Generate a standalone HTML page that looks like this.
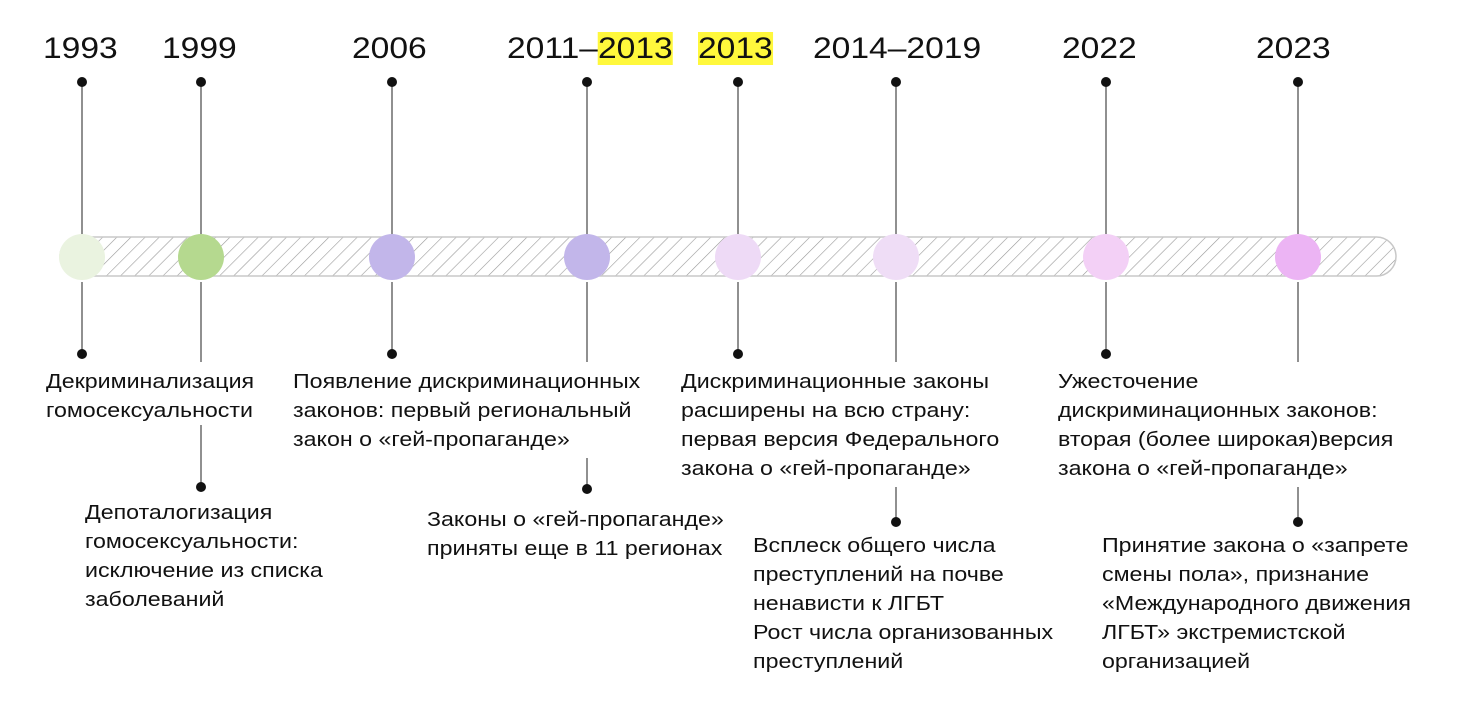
<!DOCTYPE html>
<html><head><meta charset="utf-8"><style>
body{margin:0;width:1458px;height:706px;background:#fff;position:relative;overflow:hidden;font-family:"Liberation Sans",sans-serif;color:#111}
.y{position:absolute;top:31px;font-size:30px;line-height:36px;white-space:nowrap;transform:scaleX(1.12);transform-origin:0 0}
.hl{background:#fff83c}
.t{position:absolute;font-size:20px;line-height:29px;white-space:nowrap;transform:scaleX(1.16);transform-origin:0 0}
svg{position:absolute;left:0;top:0}
</style></head><body>
<svg width="1458" height="706">
<defs><pattern id="h" width="10" height="10" patternUnits="userSpaceOnUse" patternTransform="rotate(45)"><line x1="0" y1="0" x2="0" y2="10" stroke="#999" stroke-width="1.2"/></pattern></defs>
<rect x="60" y="237" width="1336" height="39" rx="19.5" fill="url(#h)" stroke="#c8c8c8" stroke-width="1.5"/>
<g stroke="#555" stroke-width="1.3">
<line x1="82" y1="82" x2="82" y2="236"/><line x1="201" y1="82" x2="201" y2="236"/><line x1="392" y1="82" x2="392" y2="236"/><line x1="587" y1="82" x2="587" y2="236"/><line x1="738" y1="82" x2="738" y2="236"/><line x1="896" y1="82" x2="896" y2="236"/><line x1="1106" y1="82" x2="1106" y2="236"/><line x1="1298" y1="82" x2="1298" y2="236"/>
<line x1="82" y1="282" x2="82" y2="354"/><line x1="201" y1="282" x2="201" y2="362"/><line x1="392" y1="282" x2="392" y2="354"/><line x1="587" y1="282" x2="587" y2="362"/><line x1="738" y1="282" x2="738" y2="354"/><line x1="896" y1="282" x2="896" y2="362"/><line x1="1106" y1="282" x2="1106" y2="354"/><line x1="1298" y1="282" x2="1298" y2="362"/>
<line x1="201" y1="425" x2="201" y2="487"/><line x1="587" y1="458" x2="587" y2="489"/><line x1="896" y1="487" x2="896" y2="522"/><line x1="1298" y1="487" x2="1298" y2="522"/>
</g>
<g fill="#111">
<circle cx="82" cy="82" r="5"/><circle cx="201" cy="82" r="5"/><circle cx="392" cy="82" r="5"/><circle cx="587" cy="82" r="5"/><circle cx="738" cy="82" r="5"/><circle cx="896" cy="82" r="5"/><circle cx="1106" cy="82" r="5"/><circle cx="1298" cy="82" r="5"/>
<circle cx="82" cy="354" r="5"/><circle cx="392" cy="354" r="5"/><circle cx="738" cy="354" r="5"/><circle cx="1106" cy="354" r="5"/>
<circle cx="201" cy="487" r="5"/><circle cx="587" cy="489" r="5"/><circle cx="896" cy="522" r="5"/><circle cx="1298" cy="522" r="5"/>
</g>
<circle cx="82" cy="257" r="23" fill="#eaf3e0"/><circle cx="201" cy="257" r="23" fill="#b5d98f"/><circle cx="392" cy="257" r="23" fill="#c2b6ea"/><circle cx="587" cy="257" r="23" fill="#c2b6ea"/><circle cx="738" cy="257" r="23" fill="#eedaf6"/><circle cx="896" cy="257" r="23" fill="#efddf6"/><circle cx="1106" cy="257" r="23" fill="#f3d0f6"/><circle cx="1298" cy="257" r="23" fill="#ecb4f4"/>
</svg>
<div class="y" style="left:43px">1993</div>
<div class="y" style="left:162px">1999</div>
<div class="y" style="left:352px">2006</div>
<div class="y" style="left:507px">2011–<span class="hl">2013</span></div>
<div class="y" style="left:698px"><span class="hl">2013</span></div>
<div class="y" style="left:813px">2014–2019</div>
<div class="y" style="left:1062px">2022</div>
<div class="y" style="left:1256px">2023</div>
<div class="t" style="left:46px;top:368px">Декриминализация<br>гомосексуальности</div>
<div class="t" style="left:85px;top:499px">Депоталогизация<br>гомосексуальности:<br>исключение из списка<br>заболеваний</div>
<div class="t" style="left:293px;top:368px">Появление дискриминационных<br>законов: первый региональный<br>закон о «гей-пропаганде»</div>
<div class="t" style="left:427px;top:506px">Законы о «гей-пропаганде»<br>приняты еще в 11 регионах</div>
<div class="t" style="left:681px;top:368px">Дискриминационные законы<br>расширены на всю страну:<br>первая версия Федерального<br>закона о «гей-пропаганде»</div>
<div class="t" style="left:753px;top:532px">Всплеск общего числа<br>преступлений на почве<br>ненависти к ЛГБТ<br>Рост числа организованных<br>преступлений</div>
<div class="t" style="left:1058px;top:368px">Ужесточение<br>дискриминационных законов:<br>вторая (более широкая)версия<br>закона о «гей-пропаганде»</div>
<div class="t" style="left:1102px;top:532px">Принятие закона о «запрете<br>смены пола», признание<br>«Международного движения<br>ЛГБТ» экстремистской<br>организацией</div>
</body></html>
